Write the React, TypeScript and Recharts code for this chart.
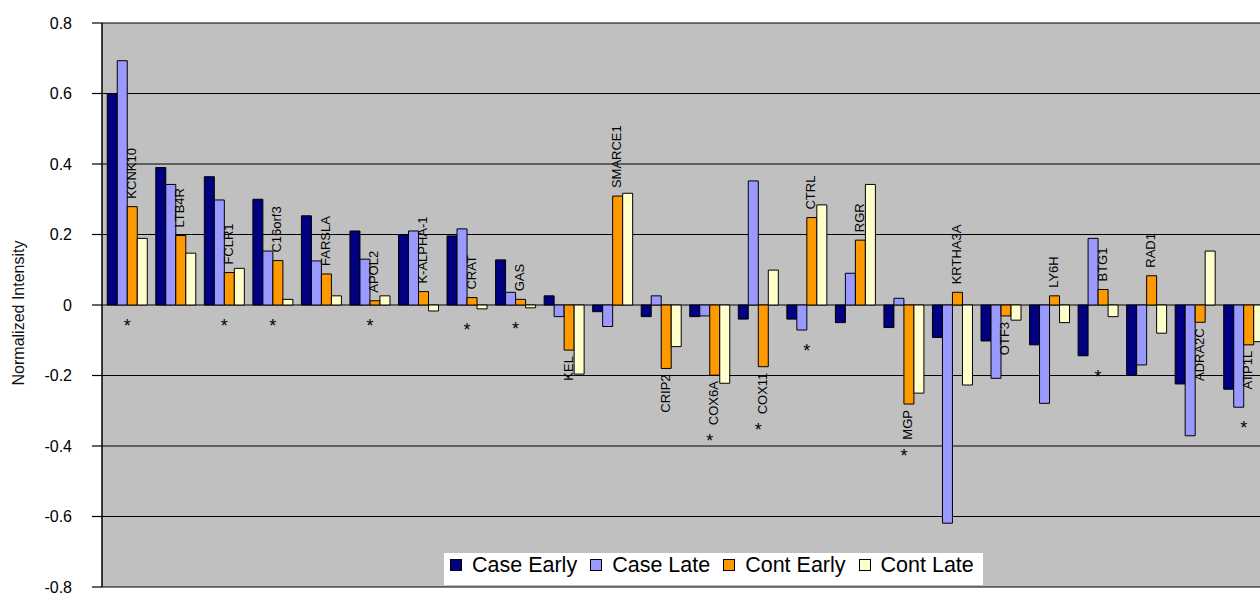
import React from 'react';
import { BarChart, Bar, XAxis, YAxis, CartesianGrid, Legend, LabelList, Label } from 'recharts';

const genes = ['KCNK10', 'LTB4R', 'FCLR1', 'C16orf3', 'FARSLA', 'APOL2', 'K-ALPHA-1', 'CRAT', 'GAS', 'KEL', 'SMARCE1', 'CRIP2', 'COX6A', 'COX11', 'CTRL', 'RGR', 'MGP', 'KRTHA3A', 'OTF3', 'LY6H', 'BTG1', 'RAD1', 'ADRA2C', 'ATP1L'];
const caseEarly = [0.6, 0.39, 0.364, 0.3, 0.253, 0.21, 0.199, 0.196, 0.128, 0.026, -0.019, -0.033, -0.033, -0.04, -0.04, -0.05, -0.064, -0.092, -0.102, -0.113, -0.144, -0.2, -0.224, -0.239];
const caseLate = [0.693, 0.342, 0.298, 0.153, 0.125, 0.13, 0.21, 0.216, 0.036, -0.033, -0.061, 0.026, -0.031, 0.352, -0.071, 0.09, 0.019, -0.619, -0.208, -0.279, 0.189, -0.17, -0.371, -0.29];
const contEarly = [0.279, 0.197, 0.092, 0.126, 0.088, 0.012, 0.038, 0.021, 0.016, -0.128, 0.309, -0.18, -0.199, -0.175, 0.248, 0.184, -0.281, 0.036, -0.031, 0.026, 0.044, 0.083, -0.049, -0.113];
const contLate = [0.189, 0.147, 0.104, 0.016, 0.026, 0.026, -0.017, -0.011, -0.008, -0.196, 0.317, -0.118, -0.222, 0.099, 0.284, 0.342, -0.25, -0.227, -0.043, -0.05, -0.033, -0.08, 0.153, -0.104];
const significant = [true, false, true, true, false, true, false, true, true, false, false, false, true, true, true, false, true, false, false, false, true, false, false, true];
const yTicks = [0.8, 0.6, 0.4, 0.2, 0, -0.2, -0.4, -0.6, -0.8];

const seriesNames = ['Case Early', 'Case Late', 'Cont Early', 'Cont Late'];
const seriesKeys = ['caseEarly', 'caseLate', 'contEarly', 'contLate'];
const seriesColors = ['#000080', '#9999FF', '#FF9900', '#FFFFCC'];

const data = genes.map((g, i) => ({
  gene: g,
  caseEarly: caseEarly[i],
  caseLate: caseLate[i],
  contEarly: contEarly[i],
  contLate: contLate[i],
}));

const FONT = "'Liberation Sans', Arial, Helvetica, sans-serif";
const LABEL_SIZE = 13;

let measureCtx: any = null;
function textWidth(s: string, size: number) {
  if (!measureCtx && typeof document !== 'undefined') {
    measureCtx = document.createElement('canvas').getContext('2d');
  }
  if (!measureCtx) return s.length * size * 0.6;
  measureCtx.font = `${size}px 'Liberation Sans', Arial, sans-serif`;
  return measureCtx.measureText(s).width;
}

const GeneLabel = (props: any) => {
  const index = props.index;
  const vb = props.viewBox || props;
  const x = Number(vb.x ?? props.x);
  const y = Number(vb.y ?? props.y);
  const w = Number(vb.width ?? props.width);
  const h = Number(vb.height ?? props.height);
  if (![x, y, w, h].every((n) => Number.isFinite(n)) || index == null) return null;
  const v = contEarly[index];
  const top = Math.min(y, y + h);
  const bottom = Math.max(y, y + h);
  const zeroY = v >= 0 ? bottom : top;
  const pxPerUnit = (bottom - top) / Math.abs(v || 1e-9);
  const cx = x + w / 2 - 1;
  const name = genes[index];
  const len = textWidth(name, LABEL_SIZE);
  let labelEl;
  let labelBottom = 0;
  if (v >= 0) {
    const ay = top - 8;
    labelEl = (
      <text x={cx} y={ay} transform={`rotate(-90 ${cx} ${ay})`} textAnchor="start" dominantBaseline="central" fontSize={LABEL_SIZE} fontFamily={FONT} fill="#000">
        {name}
      </text>
    );
  } else {
    const ay = bottom + 6;
    labelBottom = ay + len;
    labelEl = (
      <text x={cx} y={ay} transform={`rotate(-90 ${cx} ${ay})`} textAnchor="end" dominantBaseline="central" fontSize={LABEL_SIZE} fontFamily={FONT} fill="#000">
        {name}
      </text>
    );
  }
  let star = null;
  if (significant[index]) {
    const minV = Math.min(0, caseEarly[index], caseLate[index], contEarly[index], contLate[index]);
    const lowestY = zeroY - minV * pxPerUnit;
    const center = Math.max(lowestY + 17, labelBottom ? labelBottom + 12 : 0);
    star = (
      <text x={x} y={center + 10} textAnchor="middle" fontSize={18} fontFamily={FONT} fill="#000">
        *
      </text>
    );
  }
  return (
    <g>
      {labelEl}
      {star}
    </g>
  );
};

const AxisTitle = (props: any) => {
  const vb = props.viewBox || {};
  const x = (vb.x ?? 0) + 18;
  const y = (vb.y ?? 23) + (vb.height ?? 564) / 2 + 8;
  return (
    <text x={x} y={y} transform={`rotate(-90 ${x} ${y})`} textAnchor="middle" dominantBaseline="central" fontSize={16} fontFamily={FONT} fill="#111">
      Normalized Intensity
    </text>
  );
};

const LegendBox = () => (
  <div
    style={{
      display: 'flex',
      alignItems: 'flex-start',
      background: '#fff',
      height: 32,
      boxSizing: 'border-box',
      paddingLeft: 6,
      fontFamily: FONT,
      fontSize: 21.5,
      lineHeight: '24px',
      color: '#000',
      whiteSpace: 'nowrap',
    }}
  >
    {seriesNames.map((n, i) => (
      <div key={n} style={{ display: 'flex', alignItems: 'flex-start', flexShrink: 0, marginRight: i === 3 ? 0 : 13 }}>
        <svg width={12} height={12} style={{ flexShrink: 0, marginTop: 6, marginRight: 10, display: 'block' }}>
          <rect x={0.5} y={0.5} width={11} height={11} fill={seriesColors[i]} stroke="#000" strokeWidth={1} />
        </svg>
        <span style={{ flexShrink: 0 }}>{n}</span>
      </div>
    ))}
  </div>
);

export default function App() {
  return (
    <div style={{ position: 'absolute', left: 0, top: 0, width: 1260, height: 596, overflow: 'hidden', background: '#fff' }}>
      <BarChart
        width={1267}
        height={596}
        data={data}
        margin={{ top: 23, right: 0, left: 0, bottom: 9 }}
        barCategoryGap={5.25}
        barGap={0}
      >
        <CartesianGrid vertical={false} stroke="#000" strokeWidth={1.2} fill="#C0C0C0" fillOpacity={1} />
        <XAxis dataKey="gene" type="category" hide />
        <YAxis
          width={102}
          domain={[-0.8, 0.8]}
          ticks={yTicks}
          interval={0}
          tickFormatter={(v: number) => (v === 0 ? '0' : String(v))}
          tick={{ fill: '#000', fontSize: 16, fontFamily: FONT }}
          tickSize={10}
          tickMargin={20}
          axisLine={{ stroke: '#000', strokeWidth: 1.5 }}
          tickLine={{ stroke: '#000', strokeWidth: 1.2 }}
          allowDataOverflow
        >
          <Label content={AxisTitle} />
        </YAxis>
        {seriesKeys.map((k, i) => (
          <Bar key={k} dataKey={k} name={seriesNames[i]} fill={seriesColors[i]} stroke="#000" strokeWidth={1} isAnimationActive={false}>
            {k === 'contEarly' ? <LabelList dataKey="contEarly" content={GeneLabel} /> : null}
          </Bar>
        ))}
        <Legend
          layout="horizontal"
          verticalAlign="middle"
          align="center"
          content={LegendBox}
          wrapperStyle={{ position: 'absolute', left: 444, top: 553, width: 539, height: 32 }}
        />
      </BarChart>
    </div>
  );
}
